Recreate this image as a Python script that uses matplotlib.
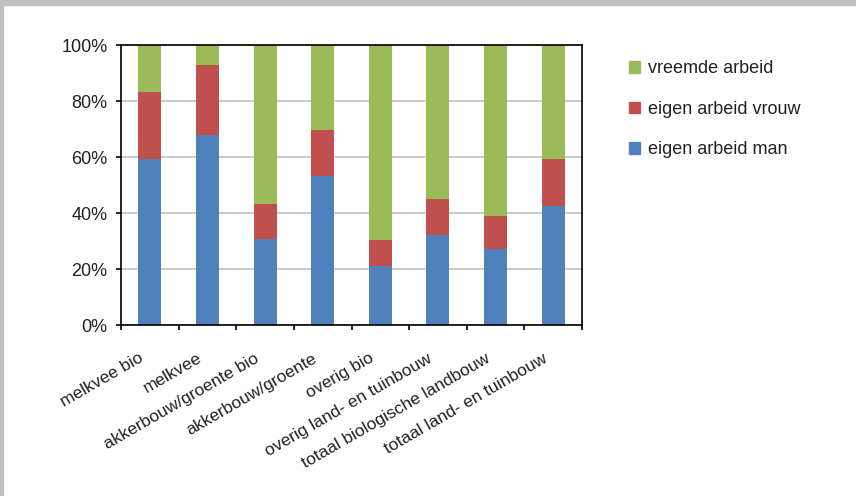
import matplotlib.pyplot as plt
import matplotlib.patches as mpatches
import matplotlib.transforms as mtransforms
import numpy as np

categories = ['melkvee bio', 'melkvee', 'akkerbouw/groente bio', 'akkerbouw/groente',
              'overig bio', 'overig land- en tuinbouw', 'totaal biologische landbouw',
              'totaal land- en tuinbouw']
eigen_man = [59.3, 67.9, 30.7, 53.3, 21.2, 32.1, 27.1, 42.6]
eigen_vrouw = [23.9, 25.0, 12.5, 16.3, 9.2, 12.9, 11.8, 16.7]
vreemd = [16.8, 7.1, 56.8, 30.4, 69.6, 55.0, 61.1, 40.7]

series_names = ['eigen arbeid man', 'eigen arbeid vrouw', 'vreemde arbeid']
colors = ['#4F81BD', '#C0504D', '#9BBB59']

fonts = ['Liberation Sans Narrow', 'Liberation Sans', 'DejaVu Sans']

fig = plt.figure(figsize=(8.56, 4.96), dpi=100)
ax = fig.add_axes([121/856, 1 - 325/496, (582 - 121)/856, (325 - 45)/496])

x = np.arange(len(categories))
bottom = np.zeros(len(categories))
for vals, name, c in zip([eigen_man, eigen_vrouw, vreemd], series_names, colors):
    ax.bar(x, vals, width=0.4, bottom=bottom, color=c, label=name, zorder=3)
    bottom = bottom + np.array(vals)

ax.set_xlim(-0.5, len(categories) - 0.5)
ax.set_ylim(0, 100)
ax.set_yticks(np.arange(0, 101, 20))
ax.set_yticklabels(['%d%%' % v for v in range(0, 101, 20)], fontfamily=fonts, fontsize=13,
                   color='#222222')
ax.yaxis.grid(True, color='#C0C0C0', lw=1.2, zorder=0)

# ticks on category boundaries, labels at centres
ax.set_xticks(np.arange(-0.5, len(categories), 1.0))
ax.set_xticklabels([])
ax.set_xticks(x, minor=True)
ax.set_xticklabels(categories, minor=True, rotation=30, ha='right', va='top',
                   rotation_mode='anchor', fontfamily=fonts, fontsize=12.5, color='#222222')
ax.tick_params(axis='x', which='minor', length=0, pad=12)
ax.tick_params(axis='both', which='major', direction='out', length=3.8, width=1.2,
               color='black', pad=6)

# nudge the rotated labels a bit left/down, like the original
shift = mtransforms.ScaledTranslation(-11/100, -9/100, fig.dpi_scale_trans)
for lbl in ax.get_xticklabels(minor=True):
    lbl.set_transform(lbl.get_transform() + shift)

for s in ax.spines.values():
    s.set_color('black')
    s.set_linewidth(1.2)
    s.set_zorder(4)

handles = [mpatches.Patch(color=c) for c in colors][::-1]
labels = series_names[::-1]
leg = fig.legend(handles, labels, loc='upper left', bbox_to_anchor=(613/856, 1 - 44/496),
                 frameon=False, handlelength=0.6, handleheight=0.6,
                 handletextpad=0.45, labelspacing=1.3,
                 prop={'family': ['Liberation Sans', 'DejaVu Sans'], 'size': 13})
for t in leg.get_texts():
    t.set_color('#222222')

# gray frame edges
fig.patches.append(mpatches.Rectangle((0, 1 - 5/496), 1, 5/496, transform=fig.transFigure,
                                      color='#C0C0C0', zorder=0))
fig.patches.append(mpatches.Rectangle((0, 0), 3/856, 1, transform=fig.transFigure,
                                      color='#C0C0C0', zorder=0))

fig.savefig('out.png', dpi=100)
